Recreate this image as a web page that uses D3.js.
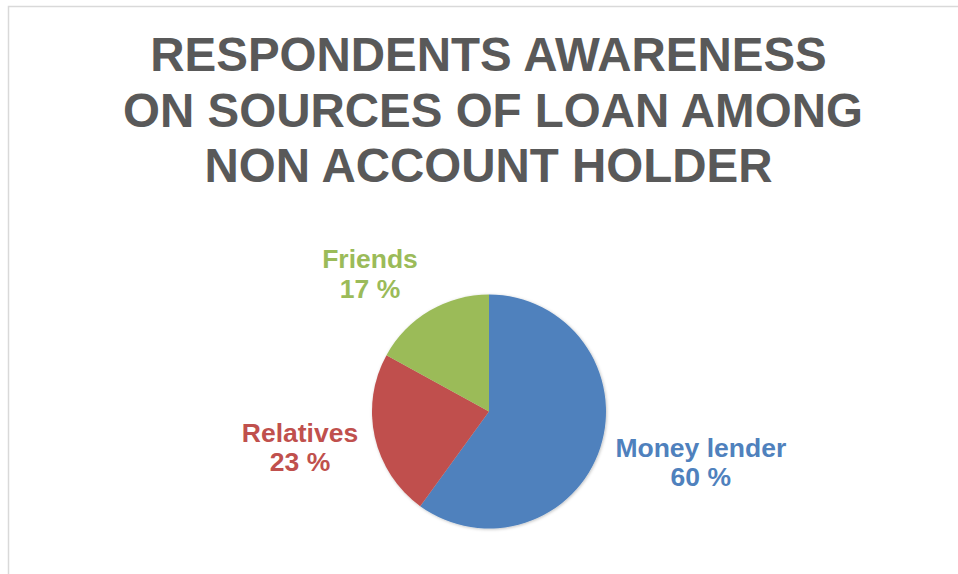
<!DOCTYPE html>
<html>
<head>
<meta charset="utf-8">
<script src="https://cdn.jsdelivr.net/npm/d3@7"></script>
<style>
  html, body { margin: 0; padding: 0; background: #fff; }
  svg { display: block; }
</style>
</head>
<body>
<svg id="chart" width="958" height="574"></svg>
<script>
// Loan source awareness among non account holders
const titleLines = ["RESPONDENTS AWARENESS", "ON SOURCES OF LOAN AMONG", "NON ACCOUNT HOLDER"];
const categories = ["Money lender", "Relatives", "Friends"];
const values = [60, 23, 17];
const colors = ["#4F81BD", "#C0504D", "#9BBB59"];

const svg = d3.select("#chart");
const W = 958, H = 574;
const font = "'Liberation Sans', Arial, sans-serif";

// Chart area frame (open to the right and bottom)
svg.append("rect")
  .attr("x", 8.5).attr("y", 6.5)
  .attr("width", W + 10).attr("height", H + 10)
  .attr("fill", "#fff")
  .attr("stroke", "#d9d9d9")
  .attr("stroke-width", 1.5);

// Title, three centred lines
const titleX = [488.5, 493, 488.5];
svg.append("g")
  .selectAll("text")
  .data(titleLines)
  .join("text")
  .attr("x", (d, i) => titleX[i])
  .attr("y", (d, i) => 71 + i * 55.5)
  .attr("text-anchor", "middle")
  .attr("font-family", font)
  .attr("font-weight", "bold")
  .attr("font-size", 47.5)
  .attr("fill", "#595959")
  .text(d => d);

// Soft shadow under the pie
const defs = svg.append("defs");
const f = defs.append("filter").attr("id", "pieShadow")
  .attr("x", "-20%").attr("y", "-20%").attr("width", "140%").attr("height", "140%");
f.append("feDropShadow")
  .attr("dx", 0.8).attr("dy", 0.8)
  .attr("stdDeviation", 1.6)
  .attr("flood-color", "#000")
  .attr("flood-opacity", 0.25);

const cx = 489, cy = 411.5, r = 117;

const pie = d3.pie().sort(null).value(d => d.value);
const data = categories.map((c, i) => ({ name: c, value: values[i], color: colors[i] }));
const arcs = pie(data);
const arc = d3.arc().innerRadius(0).outerRadius(r);

const g = svg.append("g").attr("transform", `translate(${cx},${cy})`);
g.append("g").attr("filter", "url(#pieShadow)")
  .selectAll("path")
  .data(arcs)
  .join("path")
  .attr("d", arc)
  .attr("fill", d => d.data.color);

// Data labels placed outside their slices
const labelPos = {
  "Money lender": [700.8, 456.5],
  "Relatives": [300, 441.5],
  "Friends": [370, 268]
};

const labels = svg.append("g")
  .selectAll("text")
  .data(arcs)
  .join("text")
  .attr("text-anchor", "middle")
  .attr("font-family", font)
  .attr("font-weight", "bold")
  .attr("font-size", 26.5)
  .attr("fill", d => d.data.color)
  .attr("transform", d => {
    const [x, y] = labelPos[d.data.name];
    return `translate(${x},${y})`;
  });

labels.append("tspan").attr("x", 0).attr("y", 0).text(d => d.data.name);
labels.append("tspan").attr("x", 0).attr("y", 29.5).text(d => `${d.data.value} %`);
</script>
</body>
</html>
